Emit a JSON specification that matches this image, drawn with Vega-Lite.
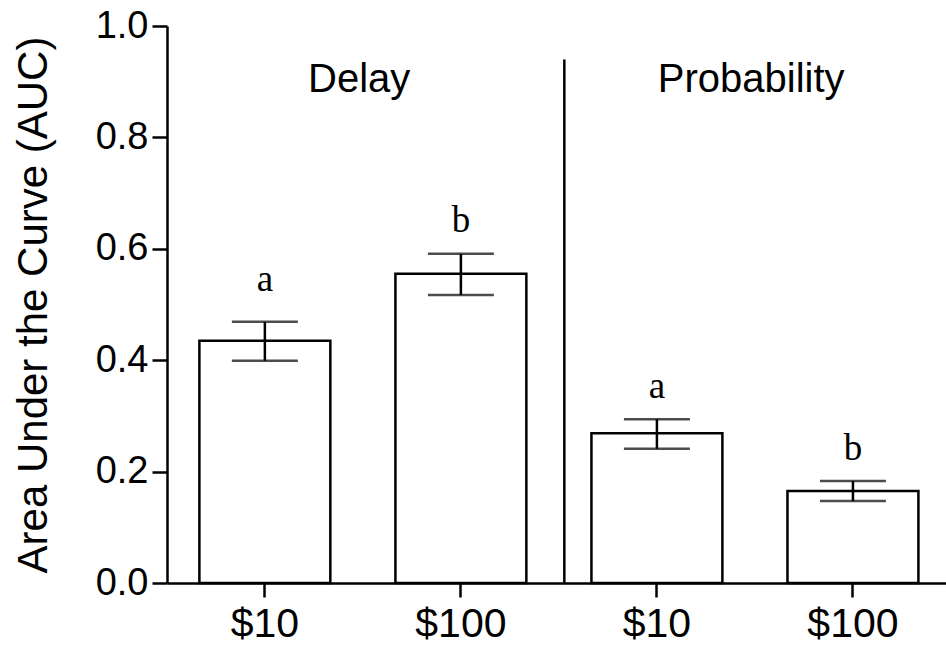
{
  "$schema": "https://vega.github.io/schema/vega-lite/v6.json",
  "autosize": "none",
  "width": 779,
  "height": 557,
  "padding": {"left": 167, "top": 26, "right": 0, "bottom": 71},
  "background": "white",
  "config": {"view": {"stroke": null}},
  "datasets": {
    "bars": [
      {"cond": "Delay $10", "auc": 0.435, "lo": 0.399, "hi": 0.469, "letter": "a", "letter_y": 0.524},
      {"cond": "Delay $100", "auc": 0.555, "lo": 0.517, "hi": 0.591, "letter": "b", "letter_y": 0.630},
      {"cond": "Probability $10", "auc": 0.269, "lo": 0.241, "hi": 0.294, "letter": "a", "letter_y": 0.332},
      {"cond": "Probability $100", "auc": 0.165, "lo": 0.147, "hi": 0.183, "letter": "b", "letter_y": 0.221}
    ],
    "panels": [
      {"cond": "Delay $10", "name": "Delay", "y": 0.8815},
      {"cond": "Probability $10", "name": "Probability", "y": 0.8815}
    ],
    "sep": [
      {"cond": "Delay $100", "top": 0.94, "bottom": 0}
    ]
  },
  "layer": [
    {
      "data": {"name": "bars"},
      "mark": {"type": "bar", "fill": "white", "stroke": "black", "strokeWidth": 2.5},
      "encoding": {
        "x": {
          "field": "cond", "type": "nominal", "sort": null,
          "scale": {"paddingInner": 0.332, "paddingOuter": 0.153, "align": 0.54},
          "axis": {
            "title": null,
            "labelExpr": "split(datum.label, ' ')[1]",
            "labelAngle": 0,
            "labelFont": "Liberation Sans",
            "labelFontSize": 41,
            "labelColor": "black",
            "labelPadding": 7,
            "domainColor": "black",
            "domainWidth": 2.5,
            "tickColor": "black",
            "tickWidth": 2.5,
            "tickSize": 14
          }
        },
        "y": {
          "field": "auc", "type": "quantitative",
          "scale": {"domain": [0, 1], "nice": false},
          "axis": {
            "title": "Area Under the Curve (AUC)",
            "titleFont": "Liberation Sans",
            "titleFontSize": 42,
            "titleFontWeight": "normal",
            "titleColor": "black",
            "titlePadding": 40,
            "values": [0, 0.2, 0.4, 0.6, 0.8, 1.0],
            "format": ".1f",
            "labelFont": "Liberation Sans",
            "labelFontSize": 38,
            "labelColor": "black",
            "labelPadding": 4,
            "grid": false,
            "domainColor": "black",
            "domainWidth": 2.5,
            "tickColor": "black",
            "tickWidth": 2.5,
            "tickSize": 15
          }
        }
      }
    },
    {
      "data": {"name": "bars"},
      "mark": {"type": "rule", "color": "black", "strokeWidth": 2.5},
      "encoding": {
        "x": {"field": "cond", "type": "nominal", "sort": null},
        "y": {"field": "lo", "type": "quantitative"},
        "y2": {"field": "hi"}
      }
    },
    {
      "data": {"name": "bars"},
      "mark": {"type": "tick", "color": "black", "thickness": 2.5, "size": 66, "orient": "horizontal"},
      "encoding": {
        "x": {"field": "cond", "type": "nominal", "sort": null},
        "y": {"field": "lo", "type": "quantitative"}
      }
    },
    {
      "data": {"name": "bars"},
      "mark": {"type": "tick", "color": "black", "thickness": 2.5, "size": 66, "orient": "horizontal"},
      "encoding": {
        "x": {"field": "cond", "type": "nominal", "sort": null},
        "y": {"field": "hi", "type": "quantitative"}
      }
    },
    {
      "data": {"name": "bars"},
      "mark": {"type": "text", "font": "Liberation Serif", "fontSize": 37, "color": "black", "baseline": "alphabetic", "align": "center"},
      "encoding": {
        "x": {"field": "cond", "type": "nominal", "sort": null},
        "y": {"field": "letter_y", "type": "quantitative"},
        "text": {"field": "letter"}
      }
    },
    {
      "data": {"name": "panels"},
      "mark": {"type": "text", "font": "Liberation Sans", "fontSize": 40, "color": "black", "baseline": "alphabetic", "align": "center"},
      "encoding": {
        "x": {"field": "cond", "type": "nominal", "sort": null, "bandPosition": 1.22},
        "y": {"field": "y", "type": "quantitative"},
        "text": {"field": "name"}
      }
    },
    {
      "data": {"name": "sep"},
      "mark": {"type": "rule", "color": "black", "strokeWidth": 2.5},
      "encoding": {
        "x": {"field": "cond", "type": "nominal", "sort": null, "bandPosition": 1.29},
        "y": {"field": "top", "type": "quantitative"},
        "y2": {"field": "bottom"}
      }
    }
  ]
}
